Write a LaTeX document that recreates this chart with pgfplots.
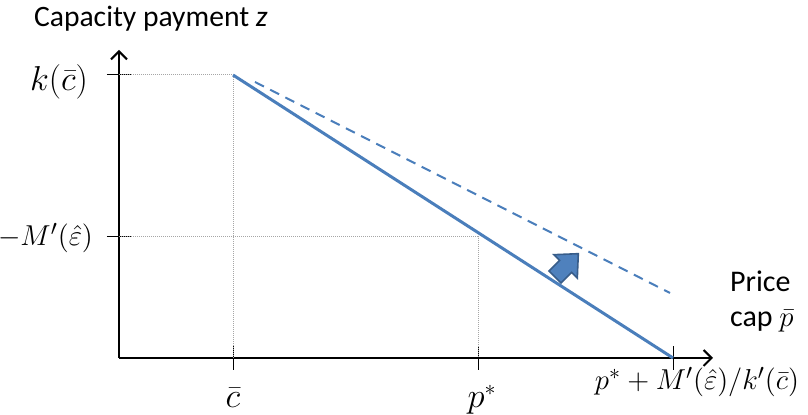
\documentclass[border=0pt]{standalone}
\usepackage{fontspec}
\setmainfont{Carlito}
\usepackage{pgfplots}
\pgfplotsset{compat=1.18}
\usetikzlibrary{arrows.meta}
\definecolor{pptblue}{HTML}{4A7EBB}
\definecolor{arrowfill}{HTML}{4F81BD}
\definecolor{arrowedge}{HTML}{385D8A}
\definecolor{guide}{HTML}{A6A6A6}

\begin{document}
\begin{tikzpicture}
\begin{axis}[x=0.5pt, y=0.5pt, xmin=0, xmax=594, ymin=0, ymax=308,
  axis lines=left, clip=false,
  axis line style={line width=1pt, -{Straight Barb[length=4pt,width=8pt]}},
  xtick={114,359,554}, ytick={121,283}, xticklabels={,,}, yticklabels={,},
  tick align=center, major tick length=12pt, tick style={black, line width=0.5pt},
  every node/.append style={inner sep=0pt}]
  % guide lines
  \addplot[guide, line width=0.5pt, dash pattern=on 0.5pt off 0.5pt] coordinates {(0,283)(114,283)(114,0)};
  \addplot[guide, line width=0.5pt, dash pattern=on 0.5pt off 0.5pt] coordinates {(0,121)(359,121)(359,0)};
  % curves
  \addplot[pptblue, line width=1.5pt] coordinates {(114,283)(554,0)};
  \addplot[pptblue, line width=1pt, dash pattern=on 5pt off 3.5pt] coordinates {(136,276)(551,65)};
  % block arrow
  \addplot[fill=arrowfill, draw=arrowedge, line width=0.8pt] coordinates
    {(430.0,87.0)(440.6,97.6)(434.9,103.3)(459.3,104.3)(458.3,79.9)(452.6,85.6)(442.0,75.0)} -- cycle;
  % labels
  \node[anchor=base west, font=\fontsize{14.8}{18}\selectfont] at (axis cs:-92,331) {Capacity payment \textit{z}};
  \node[anchor=base west, font=\fontsize{15}{18}\selectfont] at (axis cs:604,66) {Price};
  \node[anchor=base west, font=\fontsize{15}{18}\selectfont] at (axis cs:604,31) {cap $\bar{p}$};
  \node[anchor=east, font=\fontsize{16.5}{19}\selectfont] at (axis cs:-24,276) {$k(\bar{c})$};
  \node[anchor=east, font=\fontsize{15}{18}\selectfont] at (axis cs:-19,120) {$-M'(\hat{\varepsilon})$};
  \node[anchor=base, font=\fontsize{16}{19}\selectfont] at (axis cs:114,-50) {$\bar{c}$};
  \node[anchor=base, font=\fontsize{16}{19}\selectfont] at (axis cs:363,-50) {$p^*$};
  \node[anchor=base, font=\fontsize{15}{18}\selectfont] at (axis cs:578,-32) {$p^*+M'(\hat{\varepsilon})/k'(\bar{c})$};
  \coordinate (bl) at (axis cs:-119,-57);
  \coordinate (tr) at (axis cs:689,358);
\end{axis}
\pgfresetboundingbox
\useasboundingbox (bl) rectangle (tr);
\end{tikzpicture}
\end{document}
